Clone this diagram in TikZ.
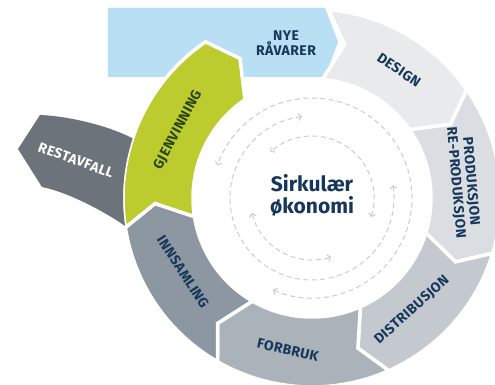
\documentclass[tikz,border=0pt]{standalone}
\usepackage{fontspec}
\setmainfont{Fira Sans}
\newfontfamily\labfont{Fira Sans}[LetterSpace=3]
\usetikzlibrary{arrows.meta}
\definecolor{cblue}{HTML}{B8DFF4}
\definecolor{cdesign}{HTML}{E9EAEC}
\definecolor{cprod}{HTML}{DADDE1}
\definecolor{cdist}{HTML}{C4C9CF}
\definecolor{cforb}{HTML}{AAB2BA}
\definecolor{cinns}{HTML}{8C97A2}
\definecolor{cgreen}{HTML}{BCCB2E}
\definecolor{crest}{HTML}{6D737A}
\definecolor{navy}{HTML}{17375A}
\definecolor{dgreen}{HTML}{2C4416}
\definecolor{dashgray}{HTML}{C9CDD2}
\newcommand{\ringseg}[3]{%
  \path[fill=#1, draw=white, line width=3.5pt, line join=miter]
    (#2:189) arc[start angle=#2, end angle=#3, radius=189]
    -- ({#3-7}:157) -- (#3:119)
    arc[start angle=#3, end angle=#2, radius=119]
    -- ({#2-7}:157) -- cycle;}
\begin{document}
\begin{tikzpicture}[x=1pt,y=1pt,
  lab/.style={font=\labfont\bfseries\fontsize{14}{15}\selectfont, text=navy, align=center, inner sep=0pt},
  dashring/.style={draw=dashgray, line width=1pt, dash pattern=on 5pt off 3.5pt,
    {Straight Barb[length=3pt,width=7pt]}-{Straight Barb[length=3pt,width=7pt]}}]
\useasboundingbox (-312,-187) rectangle (183,198);
\clip (-312,-187) rectangle (183,198);
\fill[white] (-312,-187) rectangle (183,198);
% new raw materials arrow
\fill[cblue] (-204,190) -- (13,190) -- (26,156) -- (13,121) -- (-204,121) -- cycle;
% ring segments
\ringseg{cdesign}{85}{35}
\ringseg{cprod}{35}{-17}
\ringseg{cdist}{-17}{-66}
\ringseg{cforb}{-66}{-120}
\ringseg{cinns}{-120}{-171}
\ringseg{cgreen}{-171}{-235.7}
% residual waste
\fill[crest] (-272,83) .. controls (-245,82) and (-205,73) .. (161.6:189)
  arc[start angle=161.6, end angle=188.5, radius=189]
  .. controls (-210,-12) and (-245,6) .. (-270,11) -- (-294,49) -- cycle;
% labels
\node[lab] (nye) at (-26,155) {NYE\\RÅVARER};
\node[lab, rotate=-34] (design) at (87,128) {DESIGN};
\node[lab, rotate=-85] (prod) at (6:152) {PRODUKSJON\\RE-PRODUKSJON};
\node[lab, rotate=42] (dist) at (100,-112) {DISTRIBUSJON};
\node[lab, rotate=-13] (forb) at (-24,-152) {FORBRUK};
\node[lab, rotate=-57] (inns) at (-129,-74) {INNSAMLING};
\node[lab, rotate=62, text=dgreen] (gjen) at (-134,68) {GJENVINNING};
\node[lab, rotate=-20, text=white] (rest) at (-236,38) {RESTAVFALL};
\node[font=\bfseries\fontsize{21}{22}\selectfont, text=navy, align=center, inner sep=0pt] (center) at (0,3) {Sirkulær\\økonomi};
% dashed circular arrows
\draw[dashring] (-113:100) arc[start angle=-113, end angle=161, radius=100];
\draw[dashring] (97:82) arc[start angle=97, end angle=369, radius=82];
\draw[dashring] (-18:62) arc[start angle=-18, end angle=132, radius=62];
\draw[dashring] (194:62) arc[start angle=194, end angle=288, radius=62];
\end{tikzpicture}
\end{document}
